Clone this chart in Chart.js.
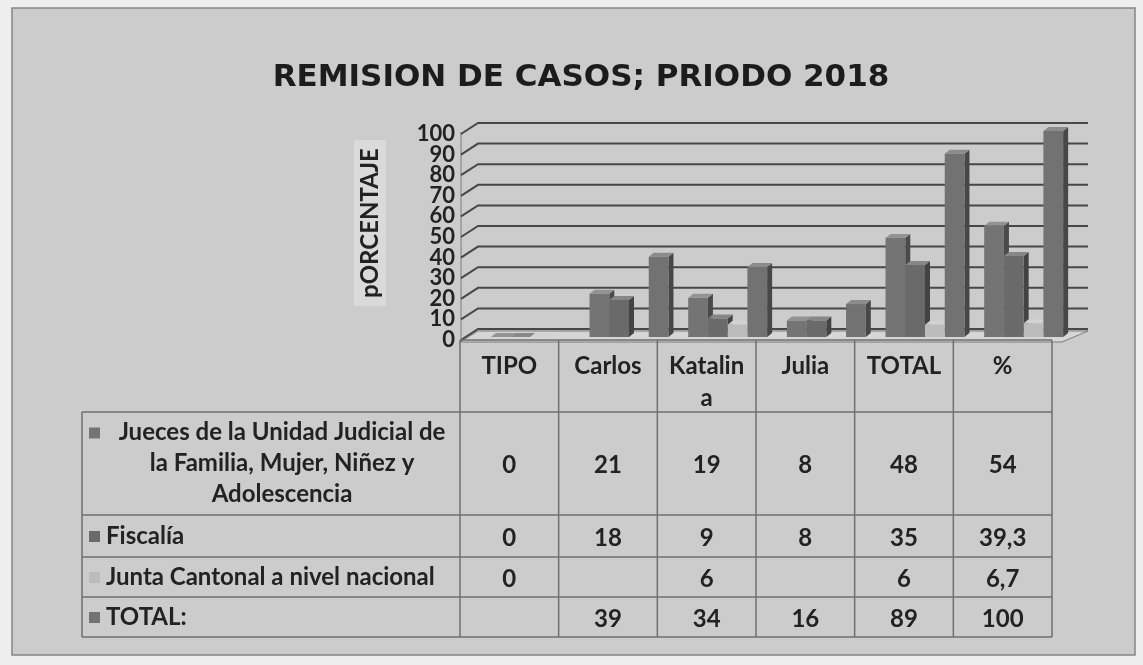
<!DOCTYPE html>
<html lang="es">
<head>
<meta charset="utf-8">
<title>Remisión de casos 2018</title>
<script src="https://cdn.jsdelivr.net/npm/chart.js"></script>
<style>
  html, body { margin: 0; padding: 0; background: #eeeeee; }
  #chart { display: block; }
</style>
</head>
<body>
<canvas id="chart" width="1143" height="665"></canvas>
<script>
const chartTitle = "REMISION DE CASOS; PRIODO 2018";
const axisTitle = "pORCENTAJE";
const categories = ["TIPO", "Carlos", ["Katalin", "a"], "Julia", "TOTAL", "%"];
const seriesNames = [
  "Jueces de la Unidad Judicial de la Familia, Mujer, Niñez y Adolescencia",
  "Fiscalía",
  "Junta Cantonal a nivel nacional",
  "TOTAL:"
];
const jueces = [0, 21, 19, 8, 48, 54];
const fiscalia = [0, 18, 9, 8, 35, 39.3];
const junta = [0, null, 6, null, 6, 6.7];
const totales = [null, 39, 34, 16, 89, 100];
const yMin = 0, yMax = 100, yStep = 10;

// looks
const FONT = "Lato, 'Open Sans', sans-serif";
const TITLE_FONT = "'DejaVu Sans', Lato, sans-serif";
const fronts = ["#747474", "#6a6a6a", "#bcbcbc", "#727272"];
const sides = ["#4a4a4a", "#434343", "#979797", "#474747"];
const tops = ["#939393", "#878787", "#d2d2d2", "#8c8c8c"];
const DEPTH = { x: 18, y: 11 };      // back wall offset
const BAR_SHIFT = { x: 21, y: -3 };  // bars sit mid-floor
const FACE = { x: 5, y: 4 };         // bar side/top thickness
const rowHeights = [72, 103, 42, 40, 40];
const labelLeft = 82;

const wrapText = (ctx, text, maxW) => {
  const lines = [];
  let cur = "";
  text.split(" ").forEach((w) => {
    const test = cur ? cur + " " + w : w;
    if (ctx.measureText(test).width > maxW && cur) { lines.push(cur); cur = w; }
    else cur = test;
  });
  if (cur) lines.push(cur);
  return lines;
};

const scene3d = {
  id: "scene3d",
  beforeDraw(chart) {
    const { ctx } = chart;
    ctx.save();
    ctx.fillStyle = "#cccccc";
    ctx.fillRect(12, 8, 1123, 647);
    ctx.strokeStyle = "#858585";
    ctx.lineWidth = 1.5;
    ctx.strokeRect(12, 8, 1123, 647);

    ctx.fillStyle = "#1c1c1c";
    ctx.font = `bold 31px ${TITLE_FONT}`;
    ctx.textAlign = "center";
    ctx.textBaseline = "middle";
    ctx.fillText(chartTitle, 581, 78);

    // y axis title with its light box
    ctx.fillStyle = "#dadada";
    ctx.fillRect(354, 140, 32, 166);
    ctx.translate(370, 223);
    ctx.rotate(-Math.PI / 2);
    ctx.fillStyle = "#222";
    ctx.font = `bold 24px ${FONT}`;
    ctx.fillText(axisTitle, 0, 0);
    ctx.restore();
  },
  beforeDatasetsDraw(chart) {
    const { ctx, chartArea: a, scales: { y } } = chart;
    const right = a.right + 36;
    ctx.save();
    // floor
    ctx.fillStyle = "#d6d6d6";
    ctx.strokeStyle = "#7a7a7a";
    ctx.lineWidth = 1;
    ctx.beginPath();
    ctx.moveTo(a.left, a.bottom + 2);
    ctx.lineTo(a.right + 10, a.bottom + 2);
    ctx.lineTo(right, a.bottom + 2 - DEPTH.y);
    ctx.lineTo(a.left + DEPTH.x, a.bottom + 2 - DEPTH.y);
    ctx.closePath();
    ctx.fill();
    ctx.stroke();
    // left wall edge
    ctx.beginPath();
    ctx.moveTo(a.left + 1, a.top - 2);
    ctx.lineTo(a.left + 1, a.bottom + 2);
    ctx.stroke();
    // grid lines bent onto the back wall
    ctx.strokeStyle = "#474747";
    ctx.lineWidth = 2;
    y.ticks.forEach((t) => {
      const py = y.getPixelForValue(t.value);
      ctx.beginPath();
      ctx.moveTo(a.left + 1, py);
      ctx.lineTo(a.left + DEPTH.x, py - DEPTH.y);
      ctx.lineTo(right, py - DEPTH.y);
      ctx.stroke();
    });

    // bars get shifted back; side and top faces drawn before fronts
    ctx.save();
    ctx.translate(BAR_SHIFT.x, BAR_SHIFT.y);
    chart.data.datasets.forEach((ds, di) => {
      const meta = chart.getDatasetMeta(di);
      meta.data.forEach((el, i) => {
        if (ds.data[i] == null) return;
        const l = el.x - el.width / 2, r = el.x + el.width / 2;
        const top = Math.min(el.y, el.base), bot = Math.max(el.y, el.base);
        ctx.fillStyle = sides[di];
        ctx.beginPath();
        ctx.moveTo(r, top);
        ctx.lineTo(r + FACE.x, top - FACE.y);
        ctx.lineTo(r + FACE.x, bot - FACE.y);
        ctx.lineTo(r, bot);
        ctx.closePath();
        ctx.fill();
        ctx.fillStyle = tops[di];
        ctx.beginPath();
        ctx.moveTo(l, top);
        ctx.lineTo(l + FACE.x, top - FACE.y);
        ctx.lineTo(r + FACE.x, top - FACE.y);
        ctx.lineTo(r, top);
        ctx.closePath();
        ctx.fill();
      });
    });
  },
  afterDatasetsDraw(chart) {
    chart.ctx.restore();
    chart.ctx.restore();
  },
  afterDraw(chart) {
    const { ctx, chartArea: a, scales: { x } } = chart;
    const step = x.getPixelForValue(1) - x.getPixelForValue(0);
    const edges = categories.map((_, i) => x.getPixelForValue(i) - step / 2);
    edges.push(x.getPixelForValue(categories.length - 1) + step / 2);
    const first = edges[0], last = edges[edges.length - 1];
    const rowTops = [a.bottom];
    rowHeights.forEach((h) => rowTops.push(rowTops[rowTops.length - 1] + h));
    const bottom = rowTops[rowTops.length - 1];

    ctx.save();
    ctx.strokeStyle = "#6f6f6f";
    ctx.lineWidth = 1.5;
    ctx.beginPath();
    edges.forEach((ex) => { ctx.moveTo(ex, a.bottom); ctx.lineTo(ex, bottom); });
    ctx.moveTo(labelLeft, rowTops[1]);
    ctx.lineTo(labelLeft, bottom);
    ctx.moveTo(first, a.bottom);
    ctx.lineTo(last, a.bottom);
    rowTops.slice(1).forEach((ry) => { ctx.moveTo(labelLeft, ry); ctx.lineTo(last, ry); });
    ctx.stroke();

    ctx.fillStyle = "#222";
    ctx.font = `bold 24px ${FONT}`;
    ctx.textBaseline = "middle";
    ctx.textAlign = "center";
    // header
    categories.forEach((c, i) => {
      const lines = Array.isArray(c) ? c : [c];
      lines.forEach((ln, k) => ctx.fillText(ln, x.getPixelForValue(i), a.bottom + 26 + k * 32));
    });

    const rows = [jueces, fiscalia, junta, totales];
    rows.forEach((vals, ri) => {
      const rTop = rowTops[ri + 1], rBot = rowTops[ri + 2];
      const mid = (rTop + rBot) / 2;
      ctx.textAlign = "center";
      vals.forEach((v, i) => {
        if (v == null) return;
        ctx.fillText(String(v).replace(".", ","), x.getPixelForValue(i), mid + 2);
      });
      const lines = wrapText(ctx, seriesNames[ri], 340);
      const lh = 31;
      const y0 = mid - (lines.length - 1) * lh / 2;
      ctx.fillStyle = fronts[ri];
      ctx.fillRect(89, y0 - 5, 11, 11);
      ctx.fillStyle = "#222";
      if (lines.length === 1) {
        ctx.textAlign = "left";
        ctx.fillText(lines[0], 106, y0);
      } else {
        ctx.textAlign = "center";
        lines.forEach((ln, k) => ctx.fillText(ln, (104 + first) / 2, y0 + k * lh));
      }
    });
    ctx.restore();
  }
};

new Chart(document.getElementById("chart"), {
  type: "bar",
  data: {
    labels: categories,
    datasets: [jueces, fiscalia, junta, totales].map((vals, i) => ({
      label: seriesNames[i],
      data: vals,
      backgroundColor: fronts[i],
      borderWidth: 0,
      barPercentage: 1,
      categoryPercentage: 0.8,
      clip: false
    }))
  },
  options: {
    responsive: false,
    devicePixelRatio: 1,
    animation: false,
    layout: { padding: { left: 0, right: 91, top: 134, bottom: 325 } },
    plugins: {
      legend: { display: false },
      title: { display: false },
      tooltip: { enabled: false }
    },
    scales: {
      x: { display: false },
      y: {
        min: yMin,
        max: yMax,
        afterFit: (scale) => { scale.width = 460; },
        grid: { display: false, drawTicks: false },
        border: { display: false },
        ticks: {
          stepSize: yStep,
          autoSkip: false,
          padding: 5,
          color: "#222",
          font: { family: FONT, size: 22, weight: "bold", lineHeight: 1 }
        }
      }
    }
  },
  plugins: [scene3d]
});
</script>
</body>
</html>
